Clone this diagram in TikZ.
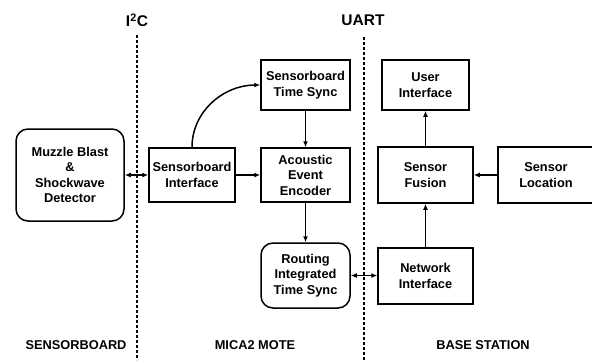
\documentclass[tikz,border=0pt]{standalone}
\usepackage{fontspec}
\setmainfont{Liberation Sans}
\usepackage{tikz}
\usetikzlibrary{positioning,arrows.meta}

\begin{document}
\begin{tikzpicture}[x=1pt,y=-1pt,
    font=\fontsize{12.8}{15.5}\selectfont\bfseries,
    block/.style={draw,line width=1.5pt,align=center,inner sep=1pt},
    rblock/.style={block,rounded corners=12pt},
    link/.style={line width=1.5pt,-{Latex[length=6pt,width=5pt]}},
    dlink/.style={line width=1.5pt,{Latex[length=6pt,width=5pt]}-{Latex[length=6pt,width=5pt]}},
    bus/.style={line width=1.5pt,dash pattern=on 3pt off 2pt}]
\useasboundingbox (0,0) rectangle (592,360);

% Bus boundaries
\coordinate (i2ctop) at (137,35);
\coordinate (i2cbot) at (137,360);
\coordinate (uarttop) at (364,37);
\coordinate (uartbot) at (364,360);
\draw[bus] (i2ctop) -- (i2cbot);
\draw[bus] (uarttop) -- (uartbot);
\node[font=\fontsize{15.5}{18}\selectfont\bfseries] (i2c) at (137,20) {I\textsuperscript{2}C};
\node[font=\fontsize{15.5}{18}\selectfont\bfseries] (uart) at (363,20) {UART};

% Blocks
\node[rblock,minimum width=108pt,minimum height=92pt] (muzzle) at (70,175) {Muzzle Blast\\\&\\Shockwave\\Detector};
\node[block,minimum width=86pt,minimum height=54pt] (sbif) at (192,175) {Sensorboard\\Interface};
\node[block,minimum width=89pt,minimum height=50pt] (tsync) at (305.5,85) {Sensorboard\\Time Sync};
\node[block,minimum width=89pt,minimum height=54pt] (encoder) at (305.5,175) {Acoustic\\Event\\Encoder};
\node[rblock,minimum width=89pt,minimum height=65pt] (routing) at (305.5,275.5) {Routing\\Integrated\\Time Sync};
\node[block,minimum width=87pt,minimum height=50pt] (ui) at (425.5,85) {User\\Interface};
\node[block,minimum width=95pt,minimum height=56pt] (fusion) at (425.5,175) {Sensor\\Fusion};
\node[block,minimum width=96pt,minimum height=56pt] (location) at (546,175) {Sensor\\Location};
\node[block,minimum width=95pt,minimum height=56pt] (netif) at (425.5,276) {Network\\Interface};

% Connections
\draw[dlink] (muzzle) -- (sbif);
\draw[link] (sbif) -- (encoder);
\draw[link] (sbif.north) to[out=90,in=180] (tsync.west);
\draw[link] (tsync) -- (encoder);
\draw[link] (encoder) -- (routing);
\draw[dlink] (routing.east) -- (routing.east -| netif.west);
\draw[link] (netif) -- (fusion);
\draw[link] (location) -- (fusion);
\draw[link] (fusion) -- (ui);

% Domain labels
\node (sblabel) at (76,345) {SENSORBOARD};
\node (motelabel) at (255,345) {MICA2 MOTE};
\node (bslabel) at (483,345) {BASE STATION};

\end{tikzpicture}
\end{document}
